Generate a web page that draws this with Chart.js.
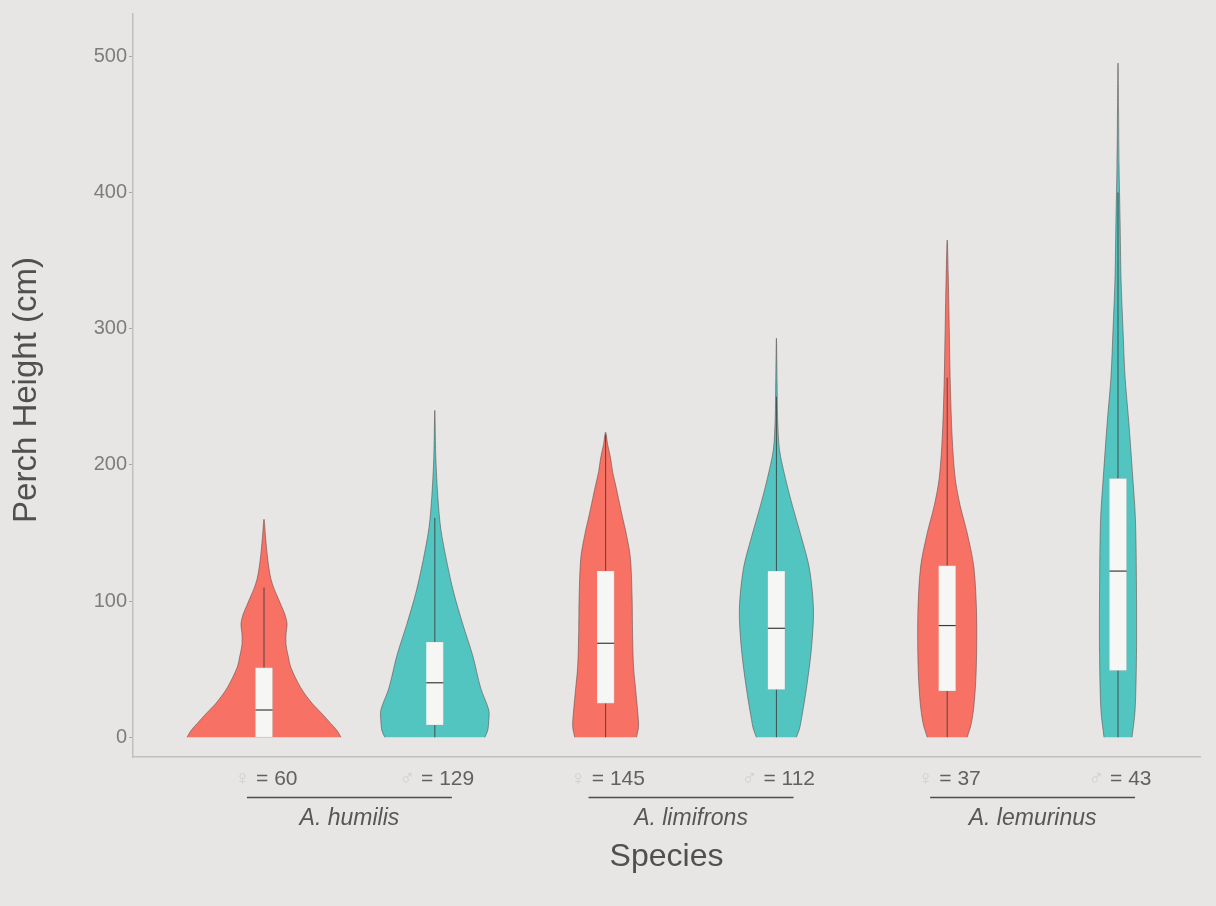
<!DOCTYPE html>
<html>
<head>
<meta charset="utf-8">
<script src="https://cdn.jsdelivr.net/npm/chart.js@4.4.1/dist/chart.umd.min.js"></script>
<style>
  html, body { margin: 0; padding: 0; background: #e7e6e4; }
  #wrap { width: 1216px; height: 906px; }
</style>
</head>
<body>
<div id="wrap"><canvas id="chart" width="1216" height="906"></canvas></div>
<script>
// ---- data -------------------------------------------------------------
const yTicks = [0, 100, 200, 300, 400, 500];
const speciesNames = ['A. humilis', 'A. limifrons', 'A. lemurinus'];
const sexSymbols = ['\u2640', '\u2642', '\u2640', '\u2642', '\u2640', '\u2642'];
const sampleSizes = [60, 129, 145, 112, 37, 43];

// kernel density outlines: perch height (cm) and half-width (category units)
const humFemaleHeight = [0, 5, 10, 18, 25, 36, 51, 60, 68, 76, 83, 90, 97, 104, 109, 116, 124, 135, 147, 160];
const humFemaleWidth  = [0.451, 0.427, 0.392, 0.334, 0.281, 0.217, 0.158, 0.141, 0.129, 0.129, 0.135, 0.123, 0.100, 0.076, 0.059, 0.041, 0.029, 0.018, 0.009, 0];
const humMaleHeight = [0, 5, 12, 20, 36, 60, 83, 106, 129, 153, 176, 205, 240];
const humMaleWidth  = [0.293, 0.310, 0.316, 0.316, 0.269, 0.222, 0.164, 0.111, 0.070, 0.035, 0.018, 0.006, 0];
const limFemaleHeight = [0, 8, 20, 35, 51, 74, 103, 132, 150, 161, 175, 185, 195, 205, 215, 224];
const limFemaleWidth  = [0.181, 0.193, 0.187, 0.176, 0.164, 0.158, 0.155, 0.145, 0.120, 0.100, 0.076, 0.059, 0.041, 0.029, 0.012, 0];
const limMaleHeight = [0, 6, 13, 36, 65, 94, 124, 147, 170, 190, 211, 234, 260, 293];
const limMaleWidth  = [0.117, 0.135, 0.146, 0.176, 0.205, 0.217, 0.193, 0.146, 0.094, 0.053, 0.018, 0.007, 0.004, 0];
const lemFemaleHeight = [0, 10, 25, 50, 90, 125, 150, 170, 190, 220, 260, 300, 340, 365];
const lemFemaleWidth  = [0.117, 0.141, 0.158, 0.170, 0.172, 0.156, 0.117, 0.076, 0.047, 0.029, 0.018, 0.012, 0.006, 0];
const lemMaleHeight = [0, 20, 60, 110, 160, 195, 230, 265, 300, 335, 380, 420, 495];
const lemMaleWidth  = [0.082, 0.100, 0.108, 0.108, 0.102, 0.084, 0.064, 0.041, 0.029, 0.018, 0.012, 0.006, 0];

// box plot summaries (cm)
const q1Values      = [0, 9, 25, 35, 34, 49];
const medianValues  = [20, 40, 69, 80, 82, 122];
const q3Values      = [51, 70, 122, 122, 126, 190];
const whiskerLow    = [0, 0, 0, 0, 0, 0];
const whiskerHigh   = [110, 161, 222, 250, 264, 400];

// ---- styling ----------------------------------------------------------
const FEMALE = 'rgb(247,114,101)';
const MALE = 'rgb(82,197,193)';
const BOX_HALF = 0.05;
const FONT = "'Liberation Sans', Arial, sans-serif";

const profiles = [
  [humFemaleHeight, humFemaleWidth],
  [humMaleHeight, humMaleWidth],
  [limFemaleHeight, limFemaleWidth],
  [limMaleHeight, limMaleWidth],
  [lemFemaleHeight, lemFemaleWidth],
  [lemMaleHeight, lemMaleWidth]
];

function violinPoints(pos, heights, widths) {
  const right = heights.map((h, i) => ({ x: pos + widths[i], y: h }));
  const left = heights.map((h, i) => ({ x: pos - widths[i], y: h })).reverse();
  return right.concat(left.slice(1));
}

const datasets = [];
profiles.forEach(([h, w], i) => {
  const pos = i + 1;
  const fillColor = i % 2 === 0 ? FEMALE : MALE;
  datasets.push({
    data: violinPoints(pos, h, w),
    backgroundColor: fillColor,
    borderColor: 'rgba(95,70,70,0.55)',
    borderWidth: 1,
    fill: 'shape',
    tension: 0.3,
    pointRadius: 0,
    order: 4
  });
  datasets.push({
    data: [{ x: pos, y: whiskerLow[i] }, { x: pos, y: whiskerHigh[i] }],
    borderColor: 'rgba(60,60,60,0.85)',
    borderWidth: 1,
    fill: false,
    pointRadius: 0,
    order: 3
  });
  datasets.push({
    data: [
      { x: pos - BOX_HALF, y: q1Values[i] }, { x: pos + BOX_HALF, y: q1Values[i] },
      { x: pos + BOX_HALF, y: q3Values[i] }, { x: pos - BOX_HALF, y: q3Values[i] }
    ],
    backgroundColor: '#f6f6f4',
    borderColor: 'rgba(150,150,150,0.35)',
    borderWidth: 0.6,
    fill: 'shape',
    tension: 0,
    pointRadius: 0,
    order: 2
  });
  datasets.push({
    data: [{ x: pos - BOX_HALF, y: medianValues[i] }, { x: pos + BOX_HALF, y: medianValues[i] }],
    borderColor: '#3a3a3a',
    borderWidth: 1.2,
    fill: false,
    pointRadius: 0,
    order: 1
  });
});

// canvas background, category labels, species brackets and axis titles
const decorations = {
  id: 'decorations',
  beforeDraw(chart) {
    const ctx = chart.ctx;
    ctx.save();
    ctx.fillStyle = '#e7e6e4';
    ctx.fillRect(0, 0, chart.width, chart.height);
    ctx.restore();
  },
  afterDraw(chart) {
    const ctx = chart.ctx;
    const xs = chart.scales.x;
    const base = chart.chartArea.bottom;
    ctx.save();
    // sample size labels
    ctx.textBaseline = 'middle';
    ctx.font = '21px ' + FONT;
    sampleSizes.forEach((n, i) => {
      const cx = xs.getPixelForValue(i + 1);
      const sym = sexSymbols[i] + ' ';
      const rest = '= ' + n;
      const wSym = ctx.measureText(sym).width;
      const wRest = ctx.measureText(rest).width;
      const x0 = cx - (wSym + wRest) / 2 + 2;
      ctx.textAlign = 'left';
      ctx.fillStyle = '#cfcfcd';
      ctx.fillText(sym, x0, base + 22);
      ctx.fillStyle = '#616161';
      ctx.fillText(rest, x0 + wSym, base + 22);
    });
    // species brackets
    speciesNames.forEach((name, g) => {
      const c = (g * 2 + 1.5);
      const xa = xs.getPixelForValue(c - 0.6);
      const xb = xs.getPixelForValue(c + 0.6);
      ctx.strokeStyle = '#4d4d4d';
      ctx.lineWidth = 1.5;
      ctx.beginPath();
      ctx.moveTo(xa, base + 40.5);
      ctx.lineTo(xb, base + 40.5);
      ctx.stroke();
      ctx.fillStyle = '#575757';
      ctx.font = 'italic 23px ' + FONT;
      ctx.textAlign = 'center';
      ctx.fillText(name, xs.getPixelForValue(c), base + 62);
    });
    // axis titles
    ctx.fillStyle = '#505050';
    ctx.font = '32px ' + FONT;
    ctx.textAlign = 'center';
    ctx.fillText('Species', (chart.chartArea.left + chart.chartArea.right) / 2, base + 100);
    ctx.font = '33px ' + FONT;
    ctx.translate(27, 390);
    ctx.rotate(-Math.PI / 2);
    ctx.fillText('Perch Height (cm)', 0, 0);
    ctx.restore();
  }
};

new Chart(document.getElementById('chart'), {
  type: 'line',
  data: { datasets },
  plugins: [decorations],
  options: {
    responsive: false,
    animation: false,
    layout: { padding: { top: 5, right: 16, left: 0, bottom: 0 } },
    plugins: { legend: { display: false }, tooltip: { enabled: false } },
    scales: {
      x: {
        type: 'linear',
        min: 0.233,
        max: 6.48,
        grid: { display: false },
        border: { display: true, color: '#bfbfbd', width: 1.5 },
        ticks: { display: false },
        afterFit(scale) { scale.height = 149; }
      },
      y: {
        type: 'linear',
        min: -14.5,
        max: 531,
        afterBuildTicks(scale) { scale.ticks = yTicks.map(v => ({ value: v })); },
        grid: { display: true, drawOnChartArea: false, drawTicks: true, tickLength: 4, color: '#a8a8a6' },
        border: { display: true, color: '#bfbfbd', width: 1.5 },
        ticks: {
          color: '#7d7d7d',
          padding: 2,
          font: { family: FONT, size: 20 },
          callback: v => String(v)
        },
        afterFit(scale) { scale.width = 133; }
      }
    }
  }
});
</script>
</body>
</html>
